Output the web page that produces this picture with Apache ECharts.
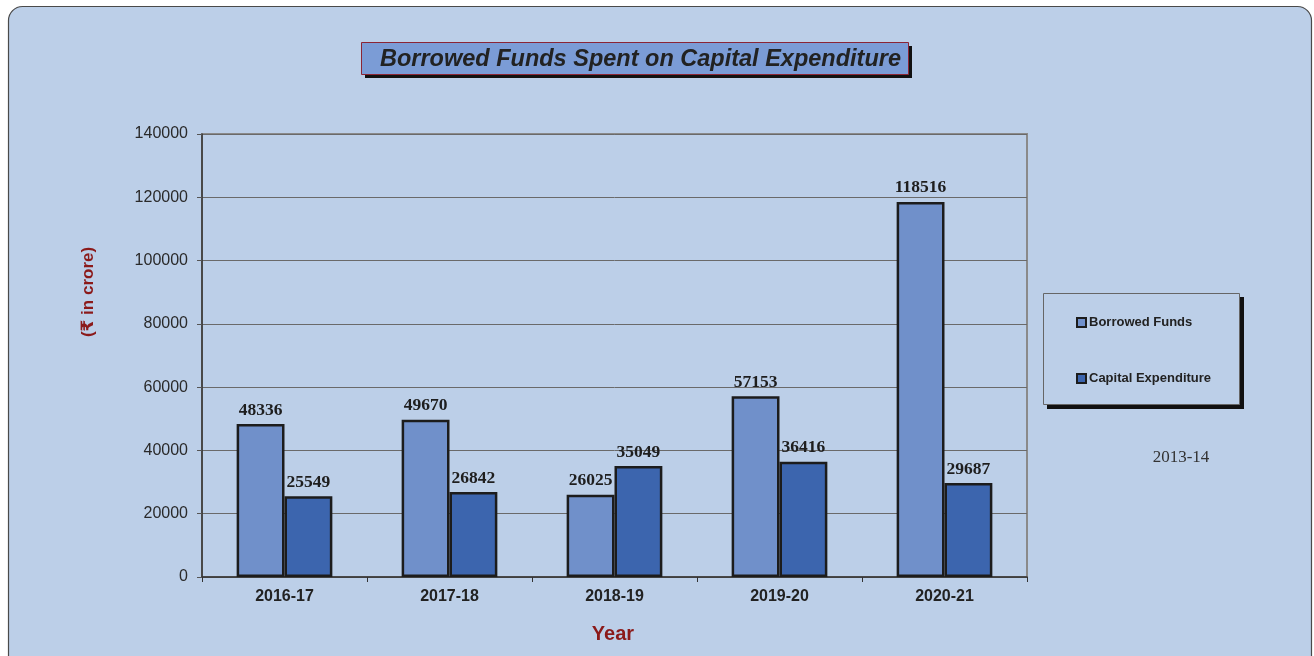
<!DOCTYPE html>
<html>
<head>
<meta charset="utf-8">
<script src="https://cdn.jsdelivr.net/npm/echarts@6/dist/echarts.min.js"></script>
<style>
html,body{margin:0;padding:0;background:#ffffff;}
#chart{width:1314px;height:656px;}
</style>
</head>
<body>
<div id="chart"></div>
<script>
const categories = ['2016-17', '2017-18', '2018-19', '2019-20', '2020-21'];
const borrowedFunds = [48336, 49670, 26025, 57153, 118516];
const capitalExpenditure = [25549, 26842, 35049, 36416, 29687];
const yTicks = [0, 20000, 40000, 60000, 80000, 100000, 120000, 140000];

const chart = echarts.init(document.getElementById('chart'), null, {renderer: 'canvas'});
const bg = '#BCCFE8';
const labelCfg = {
  show: true, position: 'top', distance: 5,
  fontFamily: '"Liberation Serif", "Times New Roman", serif',
  fontWeight: 'bold', fontSize: 17.5, color: '#1e1e1e'
};
chart.setOption({
  animation: false,
  backgroundColor: '#ffffff',
  graphic: [
    {type: 'rect', z: -10, shape: {x: 8.5, y: 6.5, width: 1303, height: 700, r: 14},
     style: {fill: bg, stroke: '#4a4a4a', lineWidth: 1.2}},
    {type: 'rect', z: 1, shape: {x: 365, y: 46, width: 547, height: 32},
     style: {fill: '#111111'}},
    {type: 'rect', z: 2, shape: {x: 361.5, y: 42.5, width: 547, height: 32},
     style: {fill: '#7B9CD6', stroke: '#8B2535', lineWidth: 1}},
    {type: 'text', z: 3, x: 380, y: 60,
     style: {text: 'Borrowed Funds Spent on Capital Expenditure',
       font: 'italic bold 23.5px "Liberation Sans", Arial, sans-serif', fill: '#222222',
       textAlign: 'left', textVerticalAlign: 'middle'}},
    {type: 'rect', z: 1, shape: {x: 1047, y: 297, width: 197, height: 112},
     style: {fill: '#111111'}},
    {type: 'rect', z: 2, shape: {x: 1043.5, y: 293.5, width: 196, height: 111},
     style: {fill: bg, stroke: '#666666', lineWidth: 1}},
    {type: 'text', z: 3, x: 1181, y: 458,
     style: {text: '2013-14', font: '17px "Liberation Serif", "Times New Roman", serif',
       fill: '#333333', textAlign: 'center', textVerticalAlign: 'middle'}},
    {type: 'text', z: 3, x: 88, y: 292, rotation: Math.PI / 2,
     style: {text: '(\u20B9 in crore)', font: 'bold 17px "Liberation Sans", "DejaVu Sans", "Noto Sans", sans-serif',
       fill: '#8B1A1A', textAlign: 'center', textVerticalAlign: 'middle'}},
    {type: 'text', z: 3, x: 613, y: 634,
     style: {text: 'Year', font: 'bold 20px "Liberation Sans", Arial, sans-serif',
       fill: '#8B1A1A', textAlign: 'center', textVerticalAlign: 'middle'}}
  ],
  legend: {
    left: 1071, top: 311, orient: 'vertical', itemGap: 43,
    itemWidth: 9, itemHeight: 9, icon: 'rect',
    textStyle: {fontFamily: '"Liberation Sans", Arial, sans-serif', fontWeight: 'bold', fontSize: 13, color: '#222222', padding: [0, 0, 0, -2]},
    data: ['Borrowed Funds', 'Capital Expenditure'],
    z: 5
  },
  grid: {left: 202, right: 287, top: 134, bottom: 79, show: true, borderColor: '#8a8a8a', borderWidth: 2, backgroundColor: 'transparent'},
  xAxis: {
    type: 'category', data: categories,
    axisLine: {lineStyle: {color: '#333333', width: 1.5}},
    axisTick: {show: true, length: 5, lineStyle: {color: '#333333'}},
    axisLabel: {fontFamily: '"Liberation Sans", Arial, sans-serif', fontWeight: 'bold', fontSize: 16, color: '#222222', margin: 12}
  },
  yAxis: {
    type: 'value', min: 0, max: 140000, interval: 20000,
    axisLine: {show: true, lineStyle: {color: '#333333', width: 1.5}},
    axisTick: {show: true, length: 5, lineStyle: {color: '#555555'}},
    axisLabel: {fontFamily: '"Liberation Sans", Arial, sans-serif', fontSize: 16, color: '#2a2a2a', margin: 14,
      formatter: function (v) { return String(v); }},
    splitLine: {lineStyle: {color: '#6a6a6a', width: 1}}
  },
  series: [
    {name: 'Borrowed Funds', type: 'bar', data: borrowedFunds, barGap: '0%', barCategoryGap: '42%',
     itemStyle: {color: '#7090CA', borderColor: '#1c1c1c', borderWidth: 2.5}, label: labelCfg},
    {name: 'Capital Expenditure', type: 'bar', data: capitalExpenditure,
     itemStyle: {color: '#3C65AE', borderColor: '#1c1c1c', borderWidth: 2.5}, label: labelCfg}
  ]
});
</script>
</body>
</html>
